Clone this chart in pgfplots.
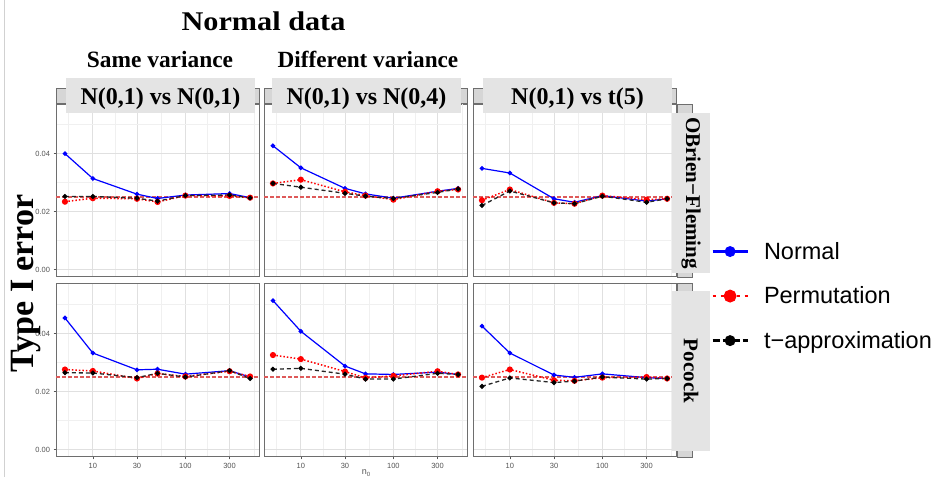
\documentclass[border=0pt]{standalone}
\usepackage{pgfplots}
\pgfplotsset{compat=1.18}
\usepackage{pgfplotstable}
\usepackage{fontspec}
\setmainfont{Liberation Serif}
\newfontfamily\arial{Liberation Sans}
\definecolor{bordc}{RGB}{110,110,110}
\definecolor{stripc}{RGB}{214,214,214}
\definecolor{boxc}{RGB}{228,228,228}
\definecolor{tickc}{RGB}{85,85,85}
\definecolor{hlinec}{RGB}{222,90,90}

\pgfplotstableread{
n normal perm tapp
5 0.0400 0.0234 0.0252
10 0.0314 0.0246 0.0252
30 0.0260 0.0244 0.0246
50 0.0245 0.0233 0.0236
100 0.0257 0.0255 0.0255
300 0.0262 0.0254 0.0257
500 0.0248 0.0248 0.0247
}\tA
\pgfplotstableread{
n normal perm tapp
5 0.0427 0.0297 0.0297
10 0.0351 0.0310 0.0284
30 0.0280 0.0268 0.0263
50 0.0261 0.0255 0.0253
100 0.0246 0.0241 0.0245
300 0.0270 0.0270 0.0266
500 0.0280 0.0276 0.0278
}\tB
\pgfplotstableread{
n normal perm tapp
5 0.0349 0.0239 0.0221
10 0.0333 0.0276 0.0271
30 0.0244 0.0230 0.0230
50 0.0232 0.0227 0.0227
100 0.0255 0.0255 0.0253
300 0.0236 0.0241 0.0232
500 0.0244 0.0244 0.0244
}\tC
\pgfplotstableread{
n normal perm tapp
5 0.0454 0.0276 0.0265
10 0.0333 0.0271 0.0264
30 0.0275 0.0245 0.0248
50 0.0277 0.0262 0.0263
100 0.0260 0.0252 0.0250
300 0.0272 0.0270 0.0272
500 0.0250 0.0252 0.0245
}\tD
\pgfplotstableread{
n normal perm tapp
5 0.0514 0.0326 0.0277
10 0.0408 0.0312 0.0280
30 0.0288 0.0269 0.0260
50 0.0261 0.0247 0.0243
100 0.0259 0.0254 0.0243
300 0.0267 0.0270 0.0263
500 0.0259 0.0259 0.0259
}\tE
\pgfplotstableread{
n normal perm tapp
5 0.0426 0.0248 0.0218
10 0.0333 0.0276 0.0247
30 0.0257 0.0239 0.0231
50 0.0249 0.0237 0.0236
100 0.0261 0.0248 0.0250
300 0.0248 0.0250 0.0243
500 0.0245 0.0245 0.0245
}\tF

\pgfplotstableread{
n ref
4 0.025
632 0.025
}\tRef

\pgfplotsset{
  mypanel/.style={
    scale only axis, width=203.5pt, height=173.5pt,
    xmin=4.0, xmax=632, ymin=-0.0026, ymax=0.0573,
    scaled x ticks=false, scaled y ticks=false,
    xtick={10,30,100,300}, minor xtick={5.477,17.32,54.77,173.2,547.7},
    ytick={0,0.02,0.04}, minor ytick={0.01,0.03,0.05},
    grid=both,
    major grid style={draw=black!12, line width=0.7pt},
    minor grid style={draw=black!6, line width=0.5pt},
    axis line style={draw=bordc, line width=1pt},
    tick align=outside, major tick length=2.5pt, minor tick length=0pt,
    tick style={tickc, line width=0.6pt},
    xtick pos=bottom, ytick pos=left,
    xticklabels={}, yticklabels={},
    tick label style={font=\arial\fontsize{7.5}{9}\selectfont, text=tickc},
    anchor=south west,
  },
  noxt/.style={xtick style={draw=none}},
  noyt/.style={ytick style={draw=none}},
  withx/.style={xticklabels={10,30,100,300}},
  withy/.style={yticklabels={0.00,0.02,0.04}},
  snormal/.style={blue, line width=1.2pt, mark=*, mark size=1.7pt, mark options={solid}},
  sperm/.style={red, line width=1.5pt, dash pattern=on 1.5pt off 2pt, mark=*, mark size=2.3pt, mark options={solid}},
  stapp/.style={black!85, line width=1.3pt, dash pattern=on 4pt off 3pt, mark=*, mark size=1.8pt, mark options={solid, fill=black, draw=black}},
  sref/.style={hlinec, line width=1.4pt, dash pattern=on 3.5pt off 2.5pt, mark=none},
  myleg/.style={
    legend style={at={(axis description cs:1.1695,-0.11)}, anchor=west, draw=none, fill=none,
      font=\arial\fontsize{23.5}{28}\selectfont, row sep=22pt, column sep=13pt, inner sep=0pt,
      nodes={inner sep=2pt}},
    legend cell align=left,
    legend image code/.code={\draw[mark repeat=2,mark phase=2,##1] plot coordinates {(0pt,0pt) (17.5pt,0pt) (35pt,0pt)};},
  },
}

\newcommand{\panelplots}[1]{%
  \addplot[sref, forget plot] table[x=n, y=ref] {\tRef};
  \addplot[snormal, forget plot] table[x=n, y=normal] {#1};
  \addplot[sperm, forget plot] table[x=n, y=perm] {#1};
  \addplot[stapp, forget plot] table[x=n, y=tapp] {#1};
}

\begin{document}
\begin{tikzpicture}
\begin{scope}[x=1pt, y=1pt]
\useasboundingbox (0,0) rectangle (934,477);
\fill[white] (0,0) rectangle (934,477);
\draw[black!18, line width=0.8pt] (4.5,0) -- (4.5,477);
\foreach \xl/\xr in {56/259.5, 264/467.5, 473/676.5} {
  \draw[fill=stripc, draw=bordc, line width=0.8pt] (\xl,373) rectangle (\xr,389);
}
\draw[fill=stripc, draw=bordc, line width=0.8pt] (677,200) rectangle (692,373);
\draw[fill=stripc, draw=bordc, line width=0.8pt] (677,20) rectangle (692,194);
\end{scope}

\begin{semilogxaxis}[mypanel, noxt, withy, at={(56pt,200pt)}]
\panelplots{\tA}
\end{semilogxaxis}
\begin{semilogxaxis}[mypanel, noxt, noyt, at={(264pt,200pt)}]
\panelplots{\tB}
\end{semilogxaxis}
\begin{semilogxaxis}[mypanel, noxt, noyt, myleg, at={(473pt,200pt)}]
\panelplots{\tC}
\addlegendimage{blue, line width=2.8pt, mark=*, mark size=4pt, mark options={solid}}
\addlegendentry{Normal}
\addlegendimage{red, line width=2.8pt, dash pattern=on 3pt off 5pt, mark=*, mark size=5pt, mark options={solid}}
\addlegendentry{Permutation}
\addlegendimage{black, line width=2.8pt, dash pattern=on 7pt off 3pt, mark=*, mark size=4pt, mark options={solid}}
\addlegendentry{t−approximation}
\end{semilogxaxis}
\begin{semilogxaxis}[mypanel, withx, withy, at={(56pt,20pt)}]
\panelplots{\tD}
\end{semilogxaxis}
\begin{semilogxaxis}[mypanel, withx, noyt, at={(264pt,20pt)}]
\panelplots{\tE}
\end{semilogxaxis}
\begin{semilogxaxis}[mypanel, withx, noyt, at={(473pt,20pt)}]
\panelplots{\tF}
\end{semilogxaxis}

\begin{scope}[x=1pt, y=1pt]
\fill[boxc] (66,364) rectangle (255,399);
\fill[boxc] (272,364) rectangle (461,399);
\fill[boxc] (483,364) rectangle (672,399);
\fill[boxc] (672,204) rectangle (710,364);
\fill[boxc] (672,26) rectangle (710,186);

\node[anchor=base] at (160.5,372) {\fontsize{24}{24}\selectfont\bfseries N(0,1) vs N(0,1)};
\node[anchor=base] at (366.5,372) {\fontsize{24}{24}\selectfont\bfseries N(0,1) vs N(0,4)};
\node[anchor=base] at (577.5,372) {\fontsize{24}{24}\selectfont\bfseries N(0,1) vs t(5)};
\node[rotate=-90] at (691,284) {\fontsize{21}{21}\selectfont\bfseries OBrien−Fleming};
\node[rotate=-90] at (691,106) {\fontsize{21}{21}\selectfont\bfseries Pocock};

\node[anchor=base] at (263.5,446.3) {\scalebox{1.12}[1]{\fontsize{27}{27}\selectfont\bfseries Normal data}};
\node[anchor=base] at (160,409) {\fontsize{23.4}{24}\selectfont\bfseries Same variance};
\node[anchor=base] at (368,409) {\fontsize{23.2}{24}\selectfont\bfseries Different variance};
\node[anchor=base, rotate=90] at (33,193.5) {\fontsize{34}{34}\selectfont\bfseries Type I error};
\node[text=tickc] at (366,4) {\arial\fontsize{9}{9}\selectfont n\raisebox{-1.8pt}{\fontsize{6}{6}\selectfont 0}};
\end{scope}
\end{tikzpicture}
\end{document}
